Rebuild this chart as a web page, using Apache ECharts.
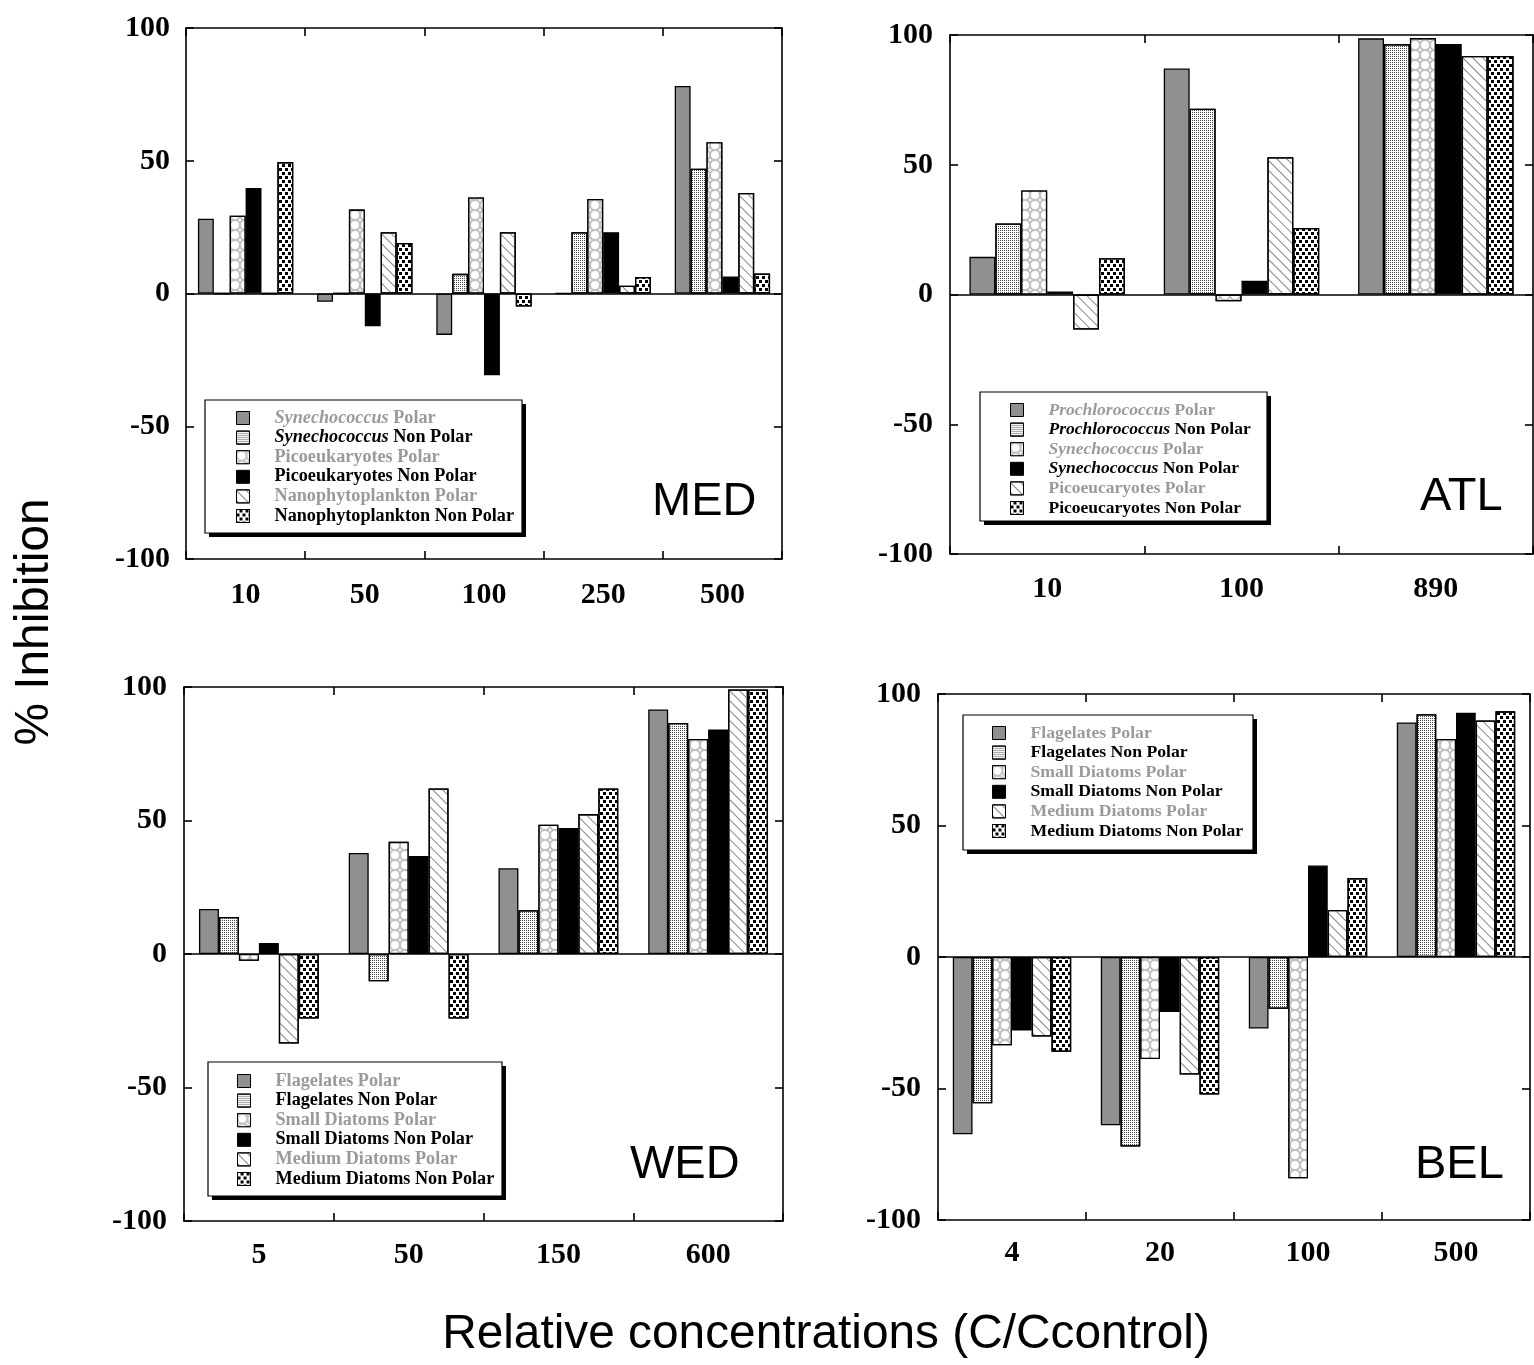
<!DOCTYPE html>
<html>
<head>
<meta charset="utf-8">
<script src="https://cdn.jsdelivr.net/npm/echarts@6/dist/echarts.min.js"></script>
<style>
html,body{margin:0;padding:0;background:#fff;}
#chart{width:1534px;height:1365px;}
</style>
</head>
<body>
<div id="chart"></div>
<script>
// ---------- DATA ----------
// MED
const medCategories = ['10', '50', '100', '250', '500'];
const medNames = ['Synechococcus Polar', 'Synechococcus Non Polar', 'Picoeukaryotes Polar', 'Picoeukaryotes Non Polar', 'Nanophytoplankton Polar', 'Nanophytoplankton Non Polar'];
const medSynPolar = [28.2, -3.1, -15.6, 0, 78.2];
const medSynNonPolar = [0, 0, 7.4, 23.1, 47.0];
const medPicoPolar = [29.3, 31.6, 36.2, 35.6, 57.0];
const medPicoNonPolar = [39.7, -12.3, -30.8, 23.1, 6.4];
const medNanoPolar = [0, 23.1, 23.1, 2.9, 37.9];
const medNanoNonPolar = [49.5, 19.0, -4.9, 6.2, 7.5];

// ATL
const atlCategories = ['10', '100', '890'];
const atlNames = ['Prochlorococcus Polar', 'Prochlorococcus Non Polar', 'Synechococcus Polar', 'Synechococcus Non Polar', 'Picoeucaryotes Polar', 'Picoeucaryotes Non Polar'];
const atlProPolar = [14.5, 87.1, 98.7];
const atlProNonPolar = [27.4, 71.6, 96.5];
const atlSynPolar = [40.1, -2.6, 98.8];
const atlSynNonPolar = [1.2, 5.3, 96.5];
const atlPicoPolar = [-13.5, 52.9, 91.9];
const atlPicoNonPolar = [14.0, 25.6, 91.9];

// WED
const wedCategories = ['5', '50', '150', '600'];
const diatomNames = ['Flagelates Polar', 'Flagelates Non Polar', 'Small Diatoms Polar', 'Small Diatoms Non Polar', 'Medium Diatoms Polar', 'Medium Diatoms Non Polar'];
const wedFlagPolar = [16.9, 37.8, 32.1, 91.6];
const wedFlagNonPolar = [13.9, -10.2, 16.4, 86.5];
const wedSmallPolar = [-2.5, 42.0, 48.4, 80.5];
const wedSmallNonPolar = [4.1, 36.7, 47.2, 84.1];
const wedMediumPolar = [-33.5, 62.0, 52.4, 99.1];
const wedMediumNonPolar = [-24.2, -24.2, 62.0, 99.1];

// BEL
const belCategories = ['4', '20', '100', '500'];
const belFlagPolar = [-67.4, -64.0, -27.2, 89.2];
const belFlagNonPolar = [-55.6, -72.1, -19.7, 92.3];
const belSmallPolar = [-33.6, -38.8, -84.1, 82.9];
const belSmallNonPolar = [-27.9, -20.9, 34.8, 92.9];
const belMediumPolar = [-30.2, -44.7, 17.9, 89.9];
const belMediumNonPolar = [-36.0, -52.3, 30.0, 93.4];

const yTicks = [-100, -50, 0, 50, 100];
const yTitle = '% Inhibition';
const xTitle = 'Relative concentrations (C/Ccontrol)';

// ---------- STYLE ----------
const SERIF = '"Liberation Serif", "Times New Roman", serif';
const SANS = '"Liberation Sans", Arial, sans-serif';

const patterns = [
  { color: '#909090', decal: null },
  { color: '#ffffff', decal: { symbol: 'rect', symbolSize: 1, color: '#444', dashArrayX: [1, 1], dashArrayY: [1, 1] } },
  { color: '#ffffff', decal: { symbol: 'emptyCircle', symbolSize: 1, color: '#c0c0c0', dashArrayX: [10, 0], dashArrayY: [10, 0] } },
  { color: '#000000', decal: null },
  { color: '#ffffff', decal: { symbol: 'rect', symbolSize: 1, color: '#888', dashArrayX: [1, 0], dashArrayY: [1, 6], rotation: Math.PI / 4 } },
  { color: '#ffffff', decal: { symbol: 'rect', symbolSize: 1, color: '#000', dashArrayX: [[3, 3], [0, 3, 3, 0]], dashArrayY: [3, 1] } }
];

// legend frame: [x, y, w, h]; legend content: swatch left, first row centre
const panels = [
  { id: 'MED', box: [186, 28, 596, 531], cats: medCategories, names: medNames,
    values: [medSynPolar, medSynNonPolar, medPicoPolar, medPicoNonPolar, medNanoPolar, medNanoNonPolar],
    xMargin: 21, yMargin: 16, frame: [205, 400, 317, 133], legend: [236, 418], legFont: 18.2, label: [652, 502] },
  { id: 'ATL', box: [950, 35, 583, 519], cats: atlCategories, names: atlNames,
    values: [atlProPolar, atlProNonPolar, atlSynPolar, atlSynNonPolar, atlPicoPolar, atlPicoNonPolar],
    xMargin: 20, yMargin: 17, frame: [980, 392, 287, 129], legend: [1010, 410], legFont: 17.5, label: [1420, 497] },
  { id: 'WED', box: [184, 687, 599, 534], cats: wedCategories, names: diatomNames,
    values: [wedFlagPolar, wedFlagNonPolar, wedSmallPolar, wedSmallNonPolar, wedMediumPolar, wedMediumNonPolar],
    xMargin: 19, yMargin: 17, frame: [208, 1062, 294, 134], legend: [237, 1081], legFont: 18.2, label: [630, 1165] },
  { id: 'BEL', box: [938, 694, 592, 526], cats: belCategories, names: diatomNames,
    values: [belFlagPolar, belFlagNonPolar, belSmallPolar, belSmallNonPolar, belMediumPolar, belMediumNonPolar],
    xMargin: 18, yMargin: 17, frame: [963, 715, 290, 135], legend: [992, 733], legFont: 17.7, label: [1415, 1165] }
];

const axisLineStyle = { color: '#000', width: 1.6 };
const labelStyle = { fontFamily: SERIF, fontWeight: 'bold', fontSize: 30, color: '#000' };

const grid = [], xAxis = [], yAxis = [], series = [], legend = [], graphic = [];

const genera = ['Synechococcus', 'Prochlorococcus'];
function legendFormatter(name) {
  const s = name.slice(name.indexOf(':') + 1);
  const c = /Non Polar$/.test(s) ? 'b' : 'g';
  for (const g of genera) {
    if (s.indexOf(g) === 0) return '{sp| }{' + c + 'i|' + g + '}{' + c + '|' + s.slice(g.length) + '}';
  }
  return '{sp| }{' + c + '|' + s + '}';
}
function makeRich(size) {
  const base = { fontFamily: SERIF, fontWeight: 'bold', fontSize: size, lineHeight: 18 };
  return {
    sp: { width: 20, lineHeight: 18 },
    g: Object.assign({}, base, { color: '#9a9a9a' }),
    gi: Object.assign({}, base, { color: '#9a9a9a', fontStyle: 'italic' }),
    b: Object.assign({}, base, { color: '#000' }),
    bi: Object.assign({}, base, { color: '#000', fontStyle: 'italic' })
  };
}

panels.forEach((p, i) => {
  grid.push({ left: p.box[0], top: p.box[1], width: p.box[2], height: p.box[3], containLabel: false });
  const xBase = {
    type: 'category', gridIndex: i, data: p.cats,
    axisLine: { show: true, onZero: false, lineStyle: axisLineStyle },
    axisTick: { show: true, inside: true, length: 8, interval: 0, lineStyle: axisLineStyle },
    splitLine: { show: false }
  };
  xAxis.push(Object.assign({}, xBase, { position: 'bottom', axisLabel: Object.assign({ margin: p.xMargin, interval: 0 }, labelStyle) }));
  xAxis.push(Object.assign({}, xBase, { position: 'top', axisLabel: { show: false } }));
  const yBase = {
    type: 'value', gridIndex: i, min: yTicks[0], max: yTicks[yTicks.length - 1], interval: 50,
    axisLine: { show: true, onZero: false, lineStyle: axisLineStyle },
    axisTick: { show: true, inside: true, length: 8, lineStyle: axisLineStyle },
    splitLine: { show: false }
  };
  yAxis.push(Object.assign({}, yBase, { position: 'left', axisLabel: Object.assign({ margin: p.yMargin }, labelStyle) }));
  yAxis.push(Object.assign({}, yBase, { position: 'right', axisLabel: { show: false } }));

  const legendData = [];
  p.values.forEach((vals, j) => {
    const name = p.id + ':' + p.names[j];
    legendData.push(name);
    const itemStyle = { color: patterns[j].color, borderColor: '#000', borderWidth: 1.3 };
    if (patterns[j].decal) itemStyle.decal = patterns[j].decal;
    const s = {
      type: 'bar', name: name, xAxisIndex: 2 * i, yAxisIndex: 2 * i, data: vals,
      barGap: '0%', barCategoryGap: '20%', itemStyle: itemStyle, silent: true
    };
    if (j === 0) {
      s.markLine = {
        silent: true, symbol: ['none', 'none'], label: { show: false },
        lineStyle: { color: '#000', width: 1.6, type: 'solid' },
        data: [{ yAxis: 0 }], z: 10
      };
    }
    series.push(s);
  });

  // legend frame + drop shadow (decoration)
  const f = p.frame;
  graphic.push({ type: 'rect', z: 3, silent: true, shape: { x: f[0] + 4, y: f[1] + 4, width: f[2], height: f[3] }, style: { fill: '#000' } });
  graphic.push({ type: 'rect', z: 3, silent: true, shape: { x: f[0], y: f[1], width: f[2], height: f[3] }, style: { fill: '#fff', stroke: '#000', lineWidth: 1.2 } });

  legend.push({
    left: p.legend[0], top: p.legend[1] - 9, orient: 'vertical', data: legendData, z: 6,
    icon: 'rect', itemWidth: 13, itemHeight: 13, itemGap: 1.6, padding: 0,
    selectedMode: false,
    itemStyle: { borderColor: '#000', borderWidth: 1 },
    textStyle: { fontFamily: SERIF, fontWeight: 'bold', fontSize: p.legFont, lineHeight: 18, rich: makeRich(p.legFont) },
    formatter: legendFormatter
  });

  graphic.push({
    type: 'text', x: p.label[0], y: p.label[1], silent: true,
    style: { text: p.id, fontFamily: SANS, fontSize: 47, fill: '#000', align: 'left', verticalAlign: 'middle' }
  });
});

graphic.push({
  type: 'text', x: 35, y: 622, rotation: Math.PI / 2, silent: true,
  style: { text: yTitle, fontFamily: SANS, fontSize: 47.8, fill: '#000', align: 'center', verticalAlign: 'middle' }
});
graphic.push({
  type: 'text', x: 826, y: 1335, silent: true,
  style: { text: xTitle, fontFamily: SANS, fontSize: 47.8, fill: '#000', align: 'center', verticalAlign: 'middle' }
});

const chart = echarts.init(document.getElementById('chart'), null, { renderer: 'canvas' });
chart.setOption({
  animation: false,
  backgroundColor: '#fff',
  grid: grid, xAxis: xAxis, yAxis: yAxis, series: series, legend: legend, graphic: graphic
});
</script>
</body>
</html>
